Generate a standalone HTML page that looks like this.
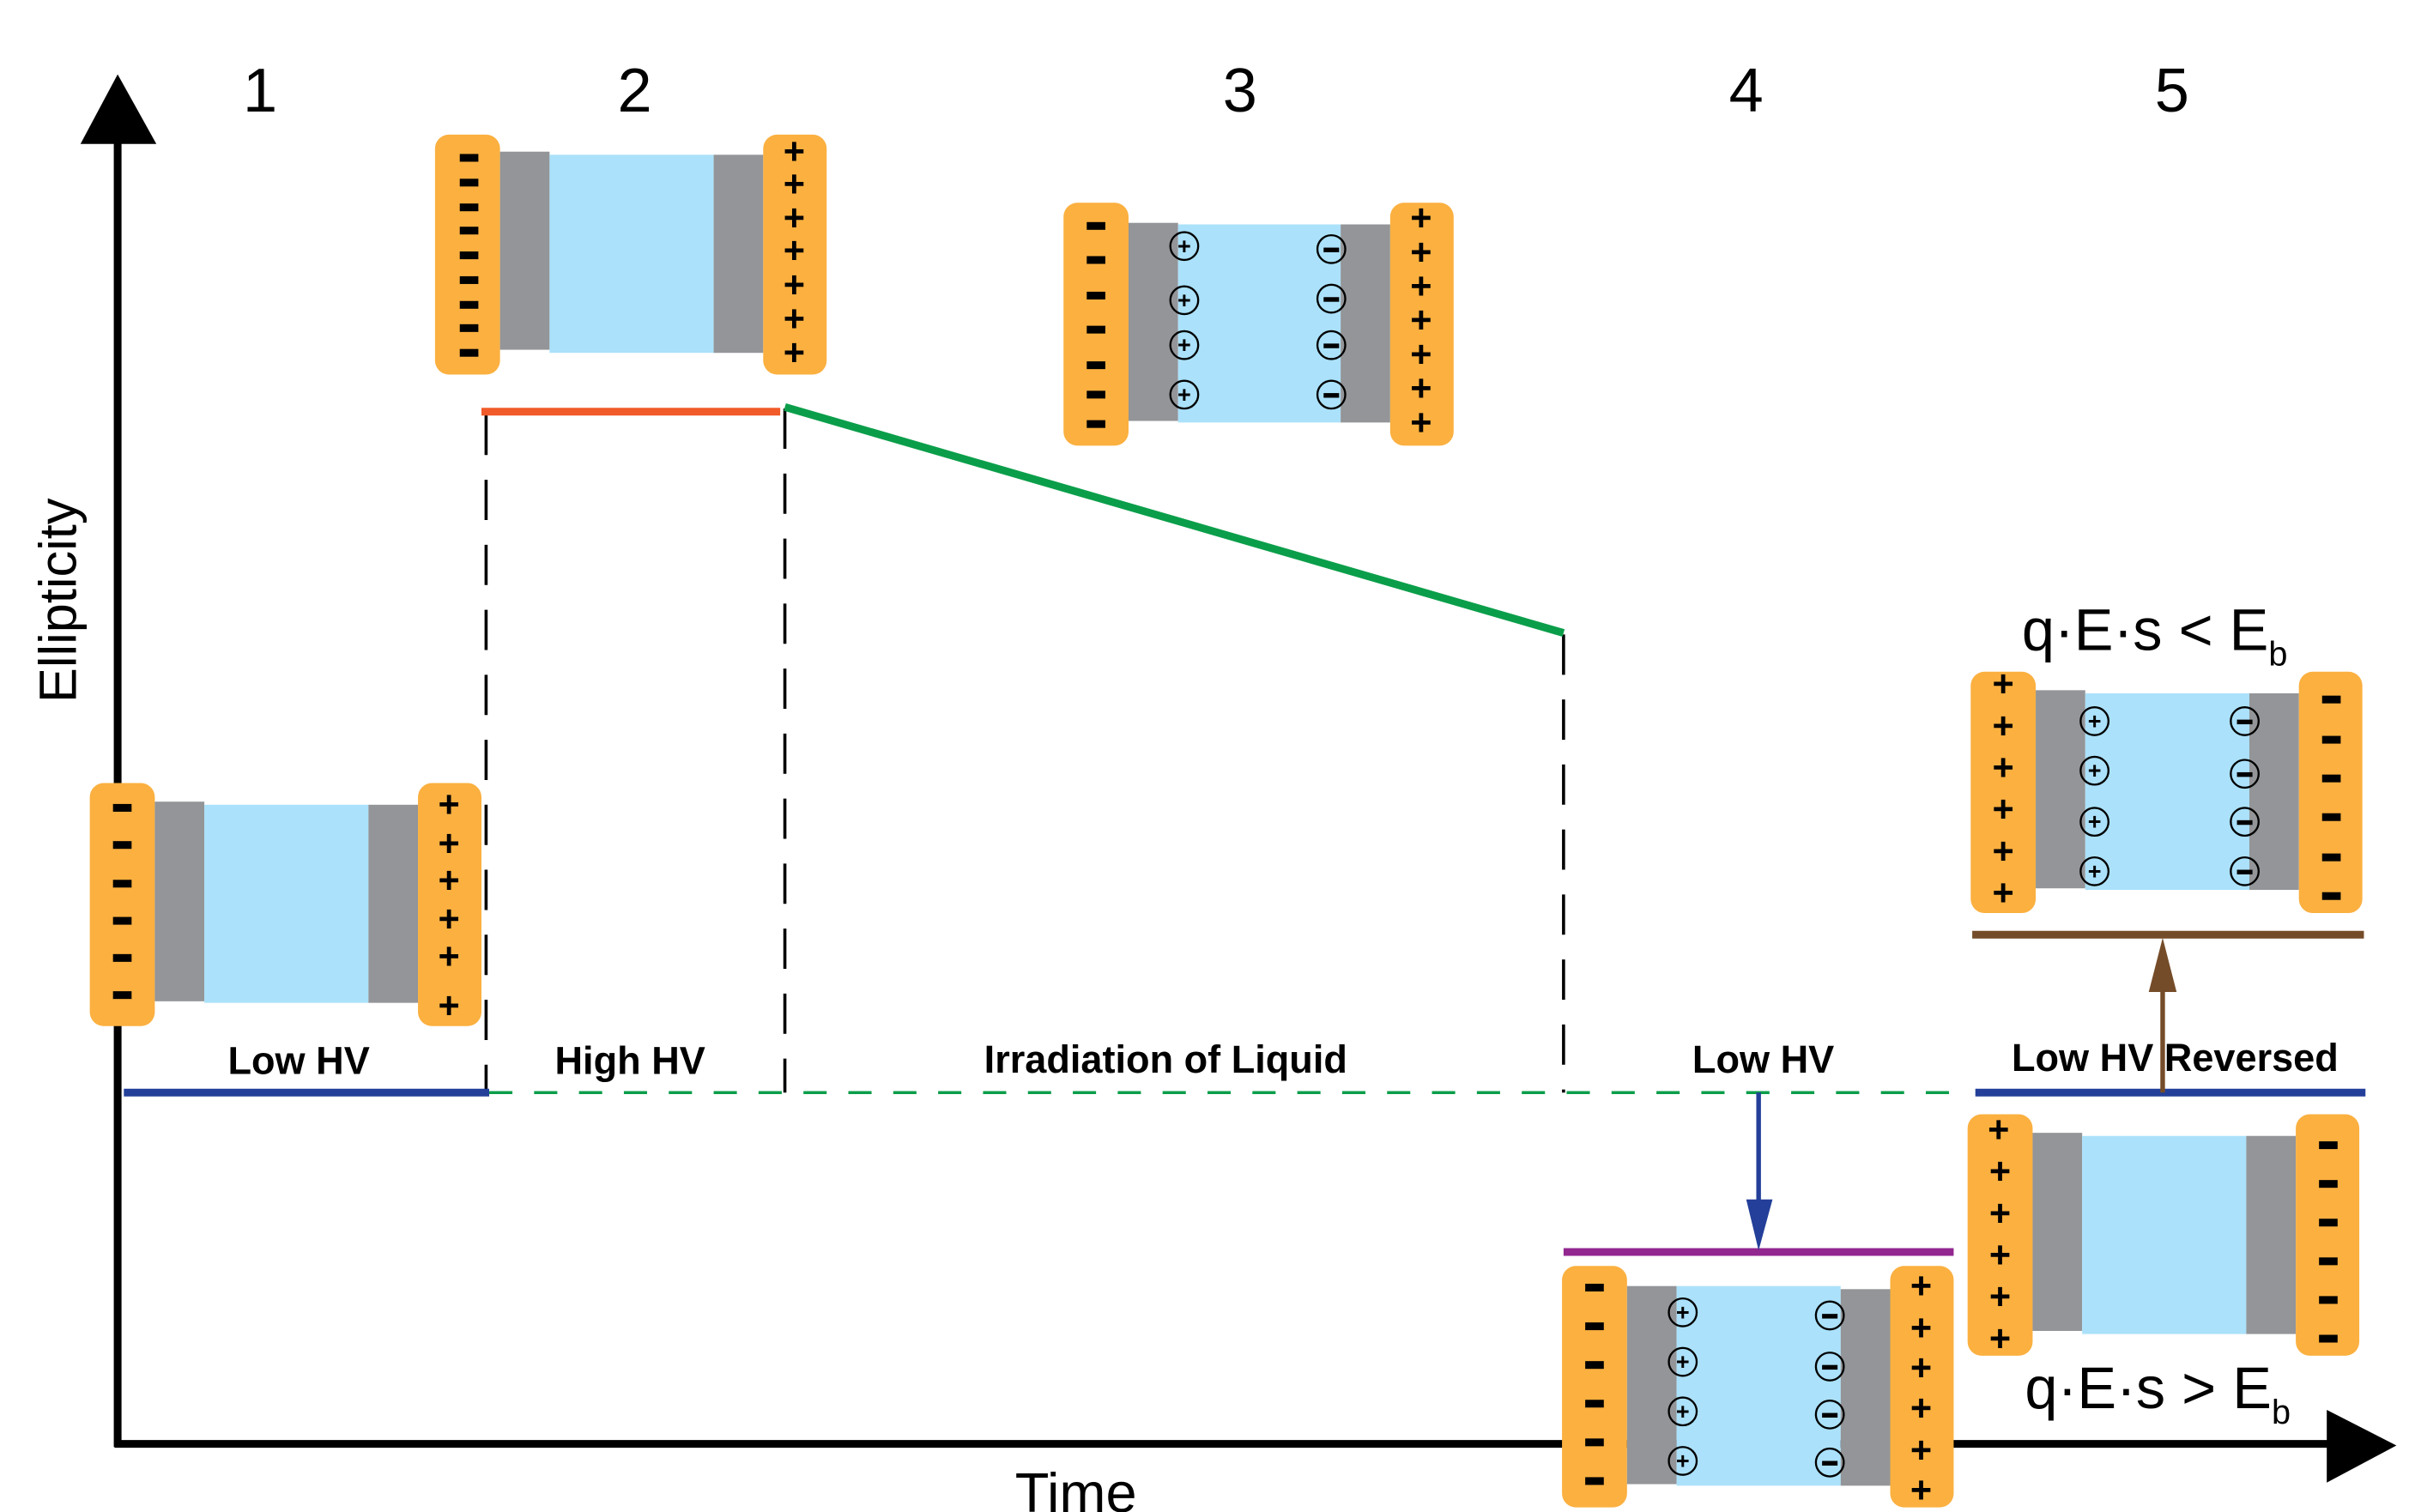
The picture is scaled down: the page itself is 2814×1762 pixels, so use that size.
<!DOCTYPE html>
<html><head><meta charset="utf-8"><style>
html,body{margin:0;padding:0;background:#fff;}
svg{display:block;}
text{font-family:"Liberation Sans",sans-serif;}
.pl{fill:#fbb040;}
.gr{fill:#939598;}
.bl{fill:#abe1fa;}
.p{font-size:24px;font-weight:bold;text-anchor:middle;fill:#000;}
.lab{font-size:25px;font-weight:bold;text-anchor:middle;fill:#000;}
.num{font-size:40px;text-anchor:middle;fill:#000;}
.ion{fill:none;stroke:#000;stroke-width:1.3;}
.it{font-size:15px;font-weight:bold;text-anchor:middle;}
</style></head><body>
<svg width="2814" height="1762" viewBox="0 0 1560 977" preserveAspectRatio="none" xmlns="http://www.w3.org/2000/svg">
<defs>
<rect id="m" x="-6" y="-2.5" width="12" height="5" fill="#000"/>
</defs>
<!-- axes -->
<line x1="76" y1="90" x2="76" y2="935" stroke="#000" stroke-width="5"/>
<polygon points="76,48 52,93 101,93" fill="#000"/>
<line x1="74" y1="933" x2="1508" y2="933" stroke="#000" stroke-width="5"/>
<polygon points="1548,934 1503,911 1503,958" fill="#000"/>
<text x="37" y="388" transform="rotate(-90 37 388)" style="font-size:34px;text-anchor:middle;" dy="12">Ellipticity</text>
<text x="695" y="977" style="font-size:36px;text-anchor:middle;">Time</text>
<text class="num" x="168" y="72">1</text>
<text class="num" x="410" y="72">2</text>
<text class="num" x="801" y="72">3</text>
<text class="num" x="1128" y="72">4</text>
<text class="num" x="1403" y="72">5</text>

<!-- dashed lines -->
<line x1="316" y1="706" x2="1260" y2="706" stroke="#0b9e4a" stroke-width="2" stroke-dasharray="15,14"/>
<line x1="314" y1="268" x2="314" y2="706" stroke="#000" stroke-width="2" stroke-dasharray="26,16"/>
<line x1="507" y1="264" x2="507" y2="706" stroke="#000" stroke-width="2" stroke-dasharray="26,16"/>
<line x1="1010" y1="410" x2="1010" y2="706" stroke="#000" stroke-width="2" stroke-dasharray="26,16"/>

<!-- colored lines -->
<line x1="80" y1="706" x2="316" y2="706" stroke="#233f99" stroke-width="5"/>
<line x1="311" y1="266" x2="504" y2="266" stroke="#f15a29" stroke-width="5"/>
<line x1="507" y1="263" x2="1010" y2="409" stroke="#0b9e4a" stroke-width="5"/>
<line x1="1276" y1="706" x2="1528" y2="706" stroke="#233f99" stroke-width="5"/>
<line x1="1010" y1="809" x2="1262" y2="809" stroke="#92278f" stroke-width="5"/>
<line x1="1274" y1="604" x2="1527" y2="604" stroke="#754c29" stroke-width="5"/>
<line x1="1136" y1="706" x2="1136" y2="780" stroke="#233f99" stroke-width="3"/>
<polygon points="1128,775 1145,775 1136,808" fill="#233f99"/>
<line x1="1397" y1="706" x2="1397" y2="636" stroke="#754c29" stroke-width="3"/>
<polygon points="1388,641 1406,641 1397,606" fill="#754c29"/>

<!-- labels -->
<text class="lab" x="193" y="694">Low HV</text>
<text class="lab" x="407" y="694">High HV</text>
<text class="lab" x="753" y="693">Irradiation of Liquid</text>
<text class="lab" x="1139" y="693">Low HV</text>
<text class="lab" x="1405" y="692">Low HV Reversed</text>
<text x="1306" y="420" style="font-size:38px;">q·E·s &lt; E<tspan style="font-size:22px" dy="10">b</tspan></text>
<text x="1308" y="910" style="font-size:38px;">q·E·s &gt; E<tspan style="font-size:22px" dy="10">b</tspan></text>

<!-- Cap 2 -->
<rect class="pl" x="281" y="87" width="42" height="155" rx="9"/>
<rect class="gr" x="323" y="98" width="32" height="128"/>
<rect class="bl" x="355" y="100" width="106" height="128"/>
<rect class="gr" x="461" y="100" width="32" height="128"/>
<rect class="pl" x="493" y="87" width="41" height="155" rx="9"/>
<use href="#m" x="303" y="102"/><use href="#m" x="303" y="118"/><use href="#m" x="303" y="134"/><use href="#m" x="303" y="149"/><use href="#m" x="303" y="165"/><use href="#m" x="303" y="181"/><use href="#m" x="303" y="197"/><use href="#m" x="303" y="212"/><use href="#m" x="303" y="228"/>
<text class="p" x="513" y="106">+</text><text class="p" x="513" y="127">+</text><text class="p" x="513" y="149">+</text><text class="p" x="513" y="170">+</text><text class="p" x="513" y="192">+</text><text class="p" x="513" y="214">+</text><text class="p" x="513" y="236">+</text>

<!-- Cap 1 -->
<rect class="pl" x="58" y="506" width="42" height="157" rx="9"/>
<rect class="gr" x="100" y="518" width="32" height="129"/>
<rect class="bl" x="132" y="520" width="106" height="128"/>
<rect class="gr" x="238" y="520" width="32" height="128"/>
<rect class="pl" x="270" y="506" width="41" height="157" rx="9"/>
<use href="#m" x="79" y="522"/><use href="#m" x="79" y="546"/><use href="#m" x="79" y="571"/><use href="#m" x="79" y="595"/><use href="#m" x="79" y="619"/><use href="#m" x="79" y="643"/>
<text class="p" x="290" y="528">+</text><text class="p" x="290" y="553">+</text><text class="p" x="290" y="577">+</text><text class="p" x="290" y="602">+</text><text class="p" x="290" y="626">+</text><text class="p" x="290" y="658">+</text>

<!-- Cap 3 -->
<rect class="pl" x="687" y="131" width="42" height="157" rx="9"/>
<rect class="gr" x="729" y="144" width="32" height="128"/>
<rect class="bl" x="761" y="145" width="105" height="128"/>
<rect class="gr" x="866" y="145" width="32" height="128"/>
<rect class="pl" x="898" y="131" width="41" height="157" rx="9"/>
<use href="#m" x="708" y="146"/><use href="#m" x="708" y="168"/><use href="#m" x="708" y="191"/><use href="#m" x="708" y="213"/><use href="#m" x="708" y="236"/><use href="#m" x="708" y="274"/><use href="#m" x="708" y="255"/>
<text class="p" x="918" y="149">+</text><text class="p" x="918" y="171">+</text><text class="p" x="918" y="193">+</text><text class="p" x="918" y="215">+</text><text class="p" x="918" y="237">+</text><text class="p" x="918" y="259">+</text><text class="p" x="918" y="281">+</text>
<g>
<circle class="ion" cx="765" cy="159" r="9"/><text class="it" x="765" y="164">+</text>
<circle class="ion" cx="765" cy="194" r="9"/><text class="it" x="765" y="199">+</text>
<circle class="ion" cx="765" cy="223" r="9"/><text class="it" x="765" y="228">+</text>
<circle class="ion" cx="765" cy="255" r="9"/><text class="it" x="765" y="260">+</text>
<circle class="ion" cx="860" cy="161" r="9"/><rect x="855" y="160" width="10" height="3"/>
<circle class="ion" cx="860" cy="193" r="9"/><rect x="855" y="192" width="10" height="3"/>
<circle class="ion" cx="860" cy="223" r="9"/><rect x="855" y="222" width="10" height="3"/>
<circle class="ion" cx="860" cy="255" r="9"/><rect x="855" y="254" width="10" height="3"/>
</g>

<!-- Cap 4 -->
<rect class="pl" x="1009" y="818" width="42" height="156" rx="9"/>
<rect class="gr" x="1051" y="831" width="32" height="128"/>
<rect class="bl" x="1083" y="831" width="106" height="129"/>
<rect class="gr" x="1189" y="833" width="32" height="127"/>
<rect class="pl" x="1221" y="818" width="41" height="156" rx="9"/>
<use href="#m" x="1030" y="832"/><use href="#m" x="1030" y="857"/><use href="#m" x="1030" y="882"/><use href="#m" x="1030" y="907"/><use href="#m" x="1030" y="932"/><use href="#m" x="1030" y="957"/>
<text class="p" x="1241" y="839">+</text><text class="p" x="1241" y="866">+</text><text class="p" x="1241" y="892">+</text><text class="p" x="1241" y="918">+</text><text class="p" x="1241" y="945">+</text><text class="p" x="1241" y="971">+</text>
<g>
<circle class="ion" cx="1087" cy="848" r="9"/><text class="it" x="1087" y="853">+</text>
<circle class="ion" cx="1087" cy="880" r="9"/><text class="it" x="1087" y="885">+</text>
<circle class="ion" cx="1087" cy="912" r="9"/><text class="it" x="1087" y="917">+</text>
<circle class="ion" cx="1087" cy="944" r="9"/><text class="it" x="1087" y="949">+</text>
<circle class="ion" cx="1182" cy="850" r="9"/><rect x="1177" y="849" width="10" height="3"/>
<circle class="ion" cx="1182" cy="883" r="9"/><rect x="1177" y="882" width="10" height="3"/>
<circle class="ion" cx="1182" cy="914" r="9"/><rect x="1177" y="913" width="10" height="3"/>
<circle class="ion" cx="1182" cy="945" r="9"/><rect x="1177" y="944" width="10" height="3"/>
</g>

<!-- Cap 5 top -->
<rect class="pl" x="1273" y="434" width="42" height="156" rx="9"/>
<rect class="gr" x="1315" y="446" width="32" height="128"/>
<rect class="bl" x="1347" y="448" width="106" height="127"/>
<rect class="gr" x="1453" y="448" width="32" height="127"/>
<rect class="pl" x="1485" y="434" width="41" height="156" rx="9"/>
<text class="p" x="1294" y="450">+</text><text class="p" x="1294" y="477">+</text><text class="p" x="1294" y="504">+</text><text class="p" x="1294" y="531">+</text><text class="p" x="1294" y="558">+</text><text class="p" x="1294" y="585">+</text>
<use href="#m" x="1506" y="452"/><use href="#m" x="1506" y="478"/><use href="#m" x="1506" y="503"/><use href="#m" x="1506" y="528"/><use href="#m" x="1506" y="554"/><use href="#m" x="1506" y="579"/>
<g>
<circle class="ion" cx="1353" cy="466" r="9"/><text class="it" x="1353" y="471">+</text>
<circle class="ion" cx="1353" cy="498" r="9"/><text class="it" x="1353" y="503">+</text>
<circle class="ion" cx="1353" cy="531" r="9"/><text class="it" x="1353" y="536">+</text>
<circle class="ion" cx="1353" cy="563" r="9"/><text class="it" x="1353" y="568">+</text>
<circle class="ion" cx="1450" cy="466" r="9"/><rect x="1445" y="465" width="10" height="3"/>
<circle class="ion" cx="1450" cy="500" r="9"/><rect x="1445" y="499" width="10" height="3"/>
<circle class="ion" cx="1450" cy="531" r="9"/><rect x="1445" y="530" width="10" height="3"/>
<circle class="ion" cx="1450" cy="563" r="9"/><rect x="1445" y="562" width="10" height="3"/>
</g>

<!-- Cap 5 bottom -->
<rect class="pl" x="1271" y="720" width="42" height="156" rx="9"/>
<rect class="gr" x="1313" y="732" width="32" height="128"/>
<rect class="bl" x="1345" y="734" width="106" height="128"/>
<rect class="gr" x="1451" y="734" width="32" height="128"/>
<rect class="pl" x="1483" y="720" width="41" height="156" rx="9"/>
<text class="p" x="1291" y="738">+</text><text class="p" x="1292" y="765">+</text><text class="p" x="1292" y="792">+</text><text class="p" x="1292" y="819">+</text><text class="p" x="1292" y="846">+</text><text class="p" x="1292" y="873">+</text>
<use href="#m" x="1504" y="740"/><use href="#m" x="1504" y="765"/><use href="#m" x="1504" y="790"/><use href="#m" x="1504" y="815"/><use href="#m" x="1504" y="840"/><use href="#m" x="1504" y="865"/>
</svg>
</body></html>
